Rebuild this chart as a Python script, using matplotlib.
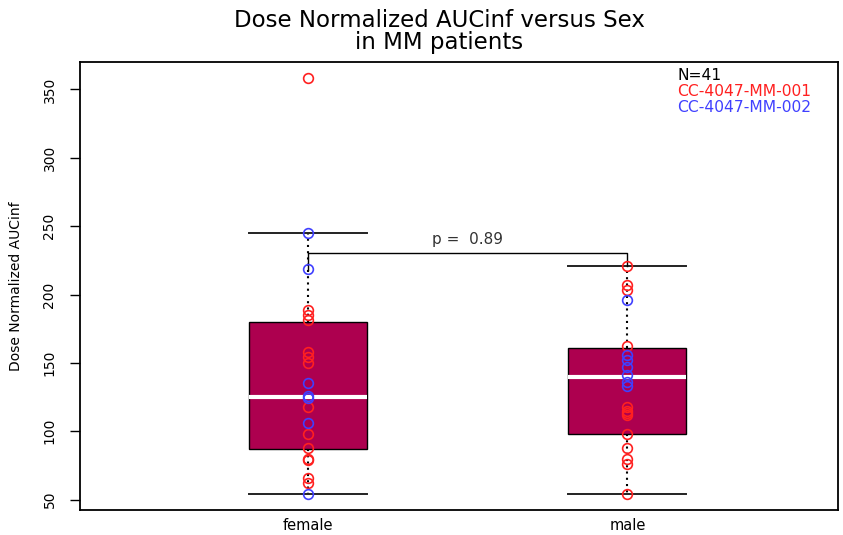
"""
Dose normalized AUCinf by sex in MM patients: boxplot with study-coloured points.
"""

import matplotlib
matplotlib.use("Agg")
import matplotlib.pyplot as plt

# groups and box summary
groups = ["female", "male"]
q1 = [87, 98]
med = [125, 140]
q3 = [180, 161]
whislo = [54, 54]
whishi = [245, 221]

# individual subjects, split by study
female_mm001 = [358, 189, 185, 181, 158, 154, 150, 118, 98, 88, 80, 79, 66, 62]
female_mm002 = [245, 219, 135, 126, 124, 106, 54]
male_mm001 = [221, 207, 203, 162, 118, 115, 113, 112, 98, 88, 80, 76, 54]
male_mm002 = [196, 156, 152, 147, 141, 136, 133]

p_text = "p =  0.89"
legend_lines = ["N=41", "CC-4047-MM-001", "CC-4047-MM-002"]
legend_colors = ["black", "#FF2020", "#4040FF"]

plt.rcParams["font.family"] = ["DejaVu Sans"]

fig = plt.figure(figsize=(8.43, 5.35), dpi=100)
ax = fig.add_axes([0.095, 0.047, 0.899, 0.837])

stats = []
for i, g in enumerate(groups):
    stats.append(dict(label=g, q1=q1[i], med=med[i], q3=q3[i],
                      whislo=whislo[i], whishi=whishi[i], fliers=[]))

ax.bxp(stats, positions=[1, 2], widths=0.37, patch_artist=True, showfliers=False,
       boxprops=dict(facecolor="#AD004F", edgecolor="black", linewidth=1.0),
       medianprops=dict(color="white", linewidth=3),
       whiskerprops=dict(color="black", linestyle=(0, (1, 2)), linewidth=1.5),
       capprops=dict(color="#222222", linewidth=1.4),
       capwidths=0.37)

# points
pts = [(1, female_mm001, "#FF2020"), (1, female_mm002, "#4040FF"),
       (2, male_mm001, "#FF2020"), (2, male_mm002, "#4040FF")]
for xpos, vals, col in pts:
    ax.plot([xpos] * len(vals), vals, "o", mfc="none", mec=col, ms=7, mew=1.2,
            linestyle="none", zorder=5)

# p-value bracket
ybar = 230
ax.plot([1, 1, 2, 2], [whishi[0] - 27, ybar, ybar, whishi[1]], color="black", lw=1.0)
ax.text(1.5, 240, p_text, ha="center", va="center", fontsize=11, color="#333333")

# legend text
for k, (txt, col) in enumerate(zip(legend_lines, legend_colors)):
    ax.text(0.788, 0.971 - k * 0.0365, txt, transform=ax.transAxes, color=col,
            fontsize=11.2, ha="left", va="center")

ax.set_xlim(0.285, 2.66)
ax.set_ylim(42.5, 370)
ax.set_xticks([1, 2])
ax.set_xticklabels(groups, fontsize=10.5)
ax.tick_params(axis="x", length=0, pad=6)
ax.set_yticks([50, 100, 150, 200, 250, 300, 350])
ax.tick_params(axis="y", length=7, width=1.0, labelsize=10, pad=10)
for lab in ax.get_yticklabels():
    lab.set_rotation(90)
    lab.set_va("center")
for sp in ax.spines.values():
    sp.set_linewidth(1.3)

ax.set_ylabel("Dose Normalized AUCinf", fontsize=10, labelpad=14)
fig.suptitle("Dose Normalized AUCinf versus Sex\nin MM patients", fontsize=16.5,
             x=0.521, y=0.983, linespacing=0.95)

plt.savefig("out.png", dpi=100)
